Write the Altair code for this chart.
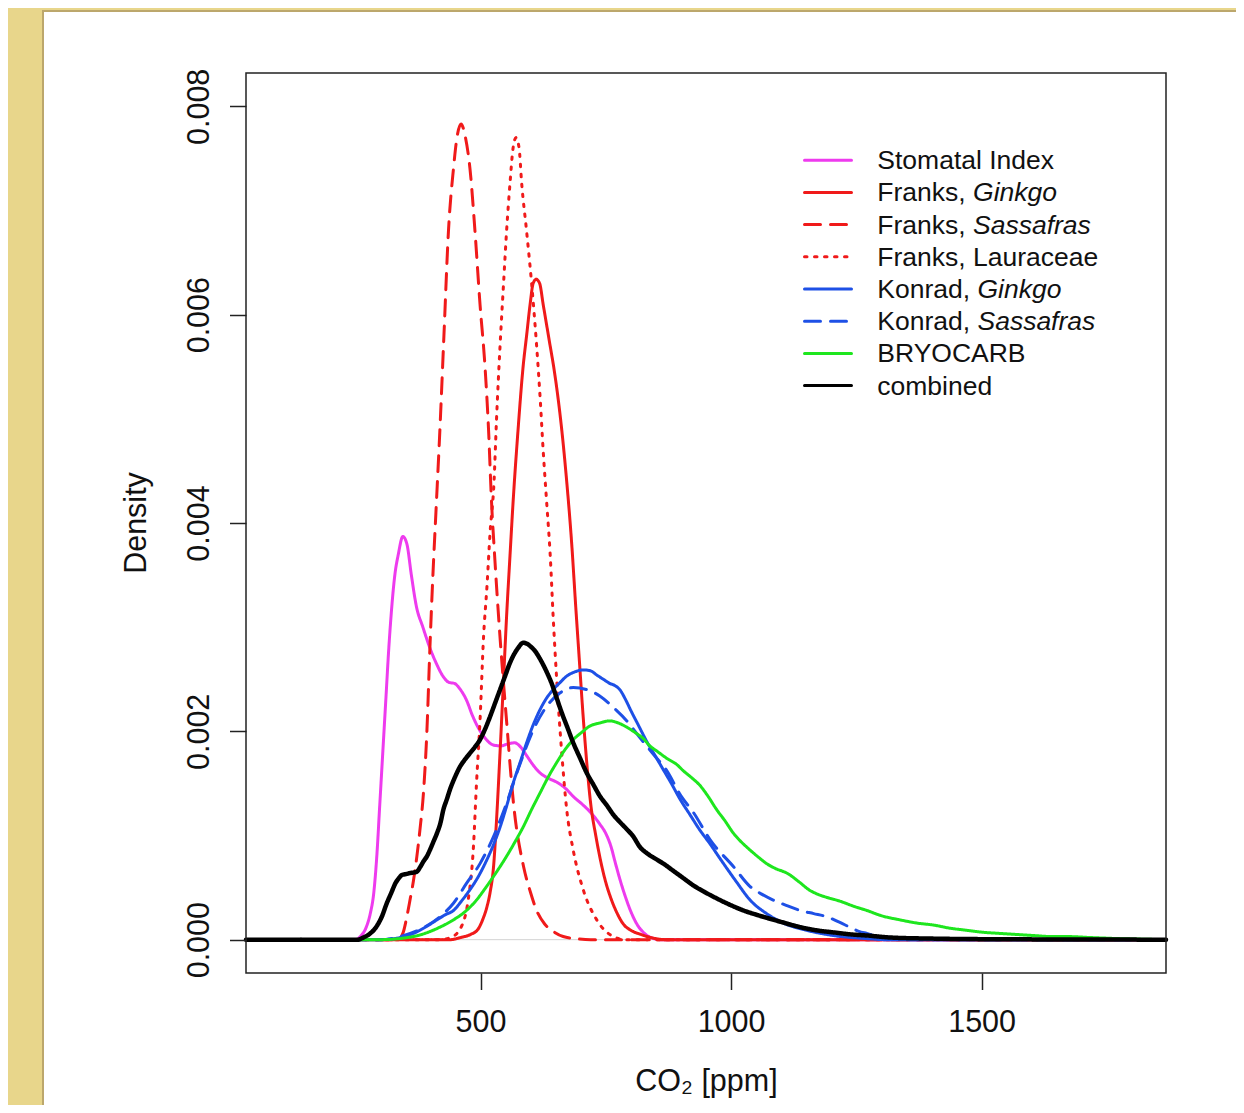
import altair as alt
import pandas as pd

# ---------------- data ----------------
series_names = ["Stomatal Index", "Franks, Ginkgo", "Franks, Sassafras", "Franks, Lauraceae",
                "Konrad, Ginkgo", "Konrad, Sassafras", "BRYOCARB", "combined"]
series_colors = ["#EE3BEE", "#F01A1A", "#F01A1A", "#F01A1A",
                 "#1E50E6", "#1E50E6", "#1EE61E", "#000000"]
series_dash = [[1, 0], [1, 0], [16, 10], [2.5, 7.5], [1, 0], [16, 10], [1, 0], [1, 0]]

# legend text: regular part and italic part
legend_regular = ["Stomatal Index", "Franks, ", "Franks, ", "Franks, Lauraceae",
                  "Konrad, ", "Konrad, ", "BRYOCARB", "combined"]
legend_italic = ["", "Ginkgo", "Sassafras", "", "Ginkgo", "Sassafras", "", ""]

x_tick_values = [500, 1000, 1500]
y_tick_values = [0.0, 0.002, 0.004, 0.006, 0.008]

stomatal_x = [32, 250, 262, 272, 280, 287, 293, 299, 305, 311, 317, 323, 329, 336, 345, 353,
              362, 372, 385, 399, 412, 425, 437, 448, 460, 472, 484, 496, 510, 525, 540, 555,
              568, 580, 593, 606, 619, 635, 653, 670, 686, 703, 720, 738, 750, 760, 770, 780,
              790, 800, 812, 825, 840, 860, 1868]
stomatal_y = [0, 0, 0.00004, 0.00012, 0.00025, 0.00045, 0.0008, 0.0013, 0.0018, 0.0023, 0.0028,
              0.0032, 0.0035, 0.0037, 0.00387, 0.0038, 0.0035, 0.0032, 0.0030, 0.0028, 0.00265,
              0.00253, 0.00247, 0.00246, 0.0024, 0.0023, 0.00215, 0.00203, 0.00193, 0.00187,
              0.00186, 0.00188, 0.00189, 0.00185, 0.00176, 0.00167, 0.0016, 0.00155, 0.00151,
              0.00145, 0.00137, 0.0013, 0.00122, 0.00111, 0.00102, 0.0009, 0.00072, 0.00055,
              0.0004, 0.00027, 0.00015, 0.00007, 0.00002, 0, 0]

franks_ginkgo_x = [32, 440, 460, 480, 495, 505, 512, 519, 526, 532, 539, 546, 552, 559, 565, 575,
                   585, 592, 599, 605, 611, 618, 625, 632, 639, 646, 652, 662, 672, 682, 690, 697,
                   704, 712, 720, 730, 740, 750, 760, 772, 785, 800, 820, 840, 870, 1868]
franks_ginkgo_y = [0, 0, 0.00002, 0.00005, 0.0001, 0.0002, 0.0003, 0.00045, 0.0007, 0.00115,
                   0.0018, 0.0025, 0.0031, 0.0037, 0.0042, 0.0049, 0.0055, 0.0058, 0.0061, 0.0063,
                   0.00634, 0.0063, 0.0061, 0.0059, 0.0057, 0.0055, 0.0053, 0.0049, 0.0044,
                   0.0038, 0.0032, 0.0027, 0.0022, 0.0017, 0.0013, 0.001, 0.00075, 0.00055,
                   0.0004, 0.00026, 0.00015, 0.00009, 0.00005, 0.00002, 0, 0]

franks_sassafras_x = [32, 335, 345, 353, 360, 366, 373, 379, 386, 393, 399, 405, 411, 419, 427,
                      436, 446, 453, 461, 470, 479, 489, 499, 509, 516, 522, 528, 539, 552, 566,
                      586, 600, 612, 628, 645, 665, 690, 720, 1868]
franks_sassafras_y = [0, 0, 0.00006, 0.00022, 0.0004, 0.00056, 0.0008, 0.00105, 0.0014, 0.002,
                      0.0028, 0.0035, 0.0041, 0.0049, 0.0058, 0.0068, 0.0074, 0.0077, 0.00783,
                      0.0077, 0.0074, 0.0068, 0.0061, 0.0055, 0.0049, 0.0042, 0.0037, 0.0029,
                      0.0021, 0.0013, 0.0007, 0.00045, 0.00028, 0.00015, 0.00008, 0.00003,
                      0.00001, 0, 0]

franks_lauraceae_x = [32, 420, 440, 459, 476, 486, 492, 499, 506, 513, 519, 527, 532, 539, 546,
                      552, 559, 565, 571, 577, 582, 592, 602, 612, 619, 625, 632, 639, 645, 652,
                      662, 672, 685, 705, 732, 765, 790, 1868]
franks_lauraceae_y = [0, 0, 0.00002, 0.0001, 0.0004, 0.0009, 0.0015, 0.0021, 0.0029, 0.0034,
                      0.0039, 0.0044, 0.005, 0.0057, 0.0063, 0.0068, 0.00727, 0.0076, 0.0077,
                      0.0076, 0.00727, 0.0068, 0.0063, 0.0057, 0.0052, 0.0047, 0.0042, 0.0037,
                      0.0031, 0.0025, 0.0018, 0.00125, 0.00086, 0.00048, 0.00019, 0.00003, 0, 0]

konrad_ginkgo_x = [32, 299, 340, 366, 390, 413, 430, 446, 462, 479, 495, 512, 525, 539, 552,
                   565, 579, 592, 605, 619, 632, 645, 659, 672, 688, 705, 720, 732, 745, 758,
                   768, 778, 790, 800, 816, 832, 848, 865, 882, 898, 918, 938, 958, 975, 1010,
                   1038, 1071, 1104, 1151, 1204, 1271, 1310, 1868]
konrad_ginkgo_y = [0, 0, 0.00002, 0.00006, 0.00012, 0.00019, 0.00024, 0.00028, 0.00037, 0.00048,
                   0.0006, 0.00076, 0.0009, 0.00108, 0.00128, 0.0015, 0.0017, 0.00189, 0.00206,
                   0.00221, 0.00232, 0.0024, 0.00247, 0.00253, 0.00257, 0.00259, 0.00258,
                   0.00254, 0.0025, 0.00246, 0.00244, 0.0024, 0.0023, 0.0022, 0.00205, 0.0019,
                   0.00177, 0.00163, 0.00149, 0.00135, 0.0012, 0.00105, 0.00092, 0.0008, 0.00056,
                   0.00038, 0.00025, 0.00016, 0.00009, 0.00004, 0.00001, 0, 0]

konrad_sassafras_x = [32, 300, 340, 380, 419, 446, 472, 499, 526, 552, 579, 605, 632, 659, 685,
                      712, 738, 765, 792, 818, 845, 872, 900, 925, 958, 1005, 1038, 1060, 1084,
                      1110, 1138, 1165, 1191, 1215, 1237, 1255, 1271, 1295, 1324, 1360, 1868]
konrad_sassafras_y = [0, 0, 0.00003, 0.0001, 0.00022, 0.00035, 0.00054, 0.00073, 0.00099,
                      0.00131, 0.00169, 0.00201, 0.00224, 0.00237, 0.00242, 0.0024, 0.00234,
                      0.00223, 0.0021, 0.00194, 0.00178, 0.00162, 0.00138, 0.00122, 0.00096,
                      0.0007, 0.00051, 0.00044, 0.00038, 0.00033, 0.00028, 0.00025, 0.00022,
                      0.00017, 0.00012, 0.00008, 0.00006, 0.00003, 0.00002, 0, 0]

bryocarb_x = [32, 299, 366, 419, 446, 472, 492, 512, 532, 552, 569, 585, 602, 619, 635, 652, 668,
              685, 702, 718, 738, 758, 775, 792, 808, 825, 838, 852, 872, 892, 905, 920, 938, 955,
              971, 988, 1005, 1020, 1038, 1055, 1071, 1090, 1111, 1137, 1155, 1171, 1195, 1217,
              1245, 1271, 1300, 1337, 1370, 1404, 1437, 1470, 1505, 1537, 1570, 1603, 1640, 1670,
              1720, 1776, 1820, 1868]
bryocarb_y = [0, 0, 0.00003, 0.00012, 0.00019, 0.00028, 0.00038, 0.00051, 0.00065, 0.0008,
              0.00094, 0.00108, 0.00125, 0.00141, 0.00156, 0.0017, 0.00182, 0.00192, 0.00199,
              0.00205, 0.00208, 0.0021, 0.00208, 0.00204, 0.00199, 0.00193, 0.00186, 0.00181,
              0.00174, 0.00168, 0.00162, 0.00156, 0.00148, 0.00137, 0.00125, 0.00114, 0.00102,
              0.00094, 0.00086, 0.00079, 0.00073, 0.00068, 0.00064, 0.00055, 0.00048, 0.00044,
              0.0004, 0.00037, 0.00032, 0.00028, 0.00023, 0.00019, 0.00016, 0.00014, 0.00011,
              0.00009, 0.00007, 0.00006, 0.00005, 0.00004, 0.00003, 0.00003, 0.00002, 0.00001,
              0.000005, 0]

combined_x = [32, 255, 266, 280, 293, 303, 313, 322, 330, 337, 343, 352, 360, 372, 380, 386, 393,
              399, 406, 413, 420, 426, 433, 439, 449, 459, 469, 479, 489, 499, 509, 519, 529, 539,
              549, 559, 567, 575, 585, 593, 601, 609, 617, 625, 634, 642, 652, 662, 674, 685, 698,
              712, 725, 738, 752, 765, 778, 792, 805, 818, 832, 848, 865, 885, 905, 925, 950, 978,
              1000, 1025, 1050, 1071, 1100, 1138, 1170, 1204, 1240, 1271, 1320, 1404, 1500, 1868]
combined_y = [0, 0, 0.00002, 0.00006, 0.00013, 0.00022, 0.00035, 0.00045, 0.00054, 0.00059,
              0.00062, 0.00063, 0.00064, 0.00065, 0.0007, 0.00075, 0.0008, 0.00086, 0.00094,
              0.00102, 0.00112, 0.00125, 0.00135, 0.00144, 0.00156, 0.00166, 0.00173, 0.00179,
              0.00185, 0.00192, 0.00202, 0.00214, 0.00227, 0.0024, 0.00253, 0.00266, 0.00274,
              0.0028, 0.00285, 0.00284, 0.00281, 0.00277, 0.00271, 0.00264, 0.00255, 0.00246,
              0.00232, 0.00218, 0.00203, 0.00189, 0.00175, 0.0016, 0.00149, 0.00138, 0.00129,
              0.0012, 0.00113, 0.00106, 0.00099, 0.00089, 0.00083, 0.00078, 0.00073, 0.00066,
              0.00059, 0.00052, 0.00045, 0.00038, 0.00033, 0.00028, 0.00024, 0.00021, 0.00017,
              0.00012, 0.00009, 0.00007, 0.00005, 0.00004, 0.00002, 0.00001, 0.000005, 0]

curve_data = [
    ("Stomatal Index", stomatal_x, stomatal_y),
    ("Franks, Ginkgo", franks_ginkgo_x, franks_ginkgo_y),
    ("Franks, Sassafras", franks_sassafras_x, franks_sassafras_y),
    ("Franks, Lauraceae", franks_lauraceae_x, franks_lauraceae_y),
    ("Konrad, Ginkgo", konrad_ginkgo_x, konrad_ginkgo_y),
    ("Konrad, Sassafras", konrad_sassafras_x, konrad_sassafras_y),
    ("BRYOCARB", bryocarb_x, bryocarb_y),
    ("combined", combined_x, combined_y),
]

# ---------------- layout ----------------
W, H = 920, 900
X_MIN, X_MAX = 32, 1868
Y_MIN, Y_MAX = -0.00032, 0.00832
FONT = "Liberation Sans"
LEG_FONT = 26.5
AX_FONT = 30.5


def px_to_x(px):
    return X_MIN + px * (X_MAX - X_MIN) / W


def py_to_y(py):
    return Y_MAX - py * (Y_MAX - Y_MIN) / H


rows = []
for name, xs_, ys_ in curve_data:
    for xv, yv in zip(xs_, ys_):
        rows.append({"series": name, "x": xv, "y": yv})
df = pd.DataFrame(rows)

# legend table (positions in pixels of the plot area converted into data space)
arial_w = {"F": 611, "r": 333, "a": 556, "n": 556, "k": 500, "s": 500, ",": 278, " ": 278,
           "K": 667, "o": 556, "d": 556}
leg_rows = []
for i, name in enumerate(series_names):
    py = 87.2 + 32.2 * i
    reg = legend_regular[i]
    it = legend_italic[i]
    prefix_w = sum(arial_w.get(c, 556) for c in reg) / 1000 * LEG_FONT if it else 0
    leg_rows.append({
        "series": name,
        "x": px_to_x(558.5), "x2": px_to_x(605.5),
        "tx": px_to_x(631.3), "ix": px_to_x(631.3 + prefix_w),
        "y": py_to_y(py),
        "reg": reg, "it": it,
    })
leg = pd.DataFrame(leg_rows)

x_axis = alt.Axis(values=x_tick_values, format="d", title="CO₂ [ppm]", grid=False, domain=False,
                  tickSize=16.5, tickWidth=1.5, tickColor="#222222",
                  labelFontSize=AX_FONT, labelColor="#111111", labelPadding=17.5,
                  labelFlush=False, labelOverlap=False,
                  titleFontSize=AX_FONT, titleFontWeight="normal", titleColor="#111111",
                  titleY=117.7, titleBaseline="alphabetic", zindex=1)
y_axis = alt.Axis(values=y_tick_values, format=".3f", title="Density", grid=False, domain=False,
                  tickSize=16.5, tickWidth=1.5, tickColor="#222222",
                  labelFontSize=AX_FONT, labelColor="#111111", labelAngle=270,
                  labelAlign="center", labelBaseline="alphabetic", labelPadding=21.5,
                  labelFlush=False, labelOverlap=False,
                  titleFontSize=AX_FONT, titleFontWeight="normal", titleColor="#111111",
                  titleAngle=270, titleX=-101, titleY=449.5, titleAlign="center",
                  titleBaseline="alphabetic", zindex=1)

xs = alt.Scale(domain=[X_MIN, X_MAX], nice=False, zero=False)
ys = alt.Scale(domain=[Y_MIN, Y_MAX], nice=False, zero=False)


def X(field="x"):
    return alt.X(f"{field}:Q", scale=xs, axis=x_axis)


def Y(field="y"):
    return alt.Y(f"{field}:Q", scale=ys, axis=y_axis)


color = alt.Color("series:N", scale=alt.Scale(domain=series_names, range=series_colors), legend=None)
dash = alt.StrokeDash("series:N", scale=alt.Scale(domain=series_names, range=series_dash), legend=None)

dummy = pd.DataFrame({"a": [0]})

panel = alt.Chart(dummy).mark_rect(fill="white", stroke="#BCA76C", strokeWidth=2).encode(
    x=alt.value(-203), x2=alt.value(1100), y=alt.value(-62), y2=alt.value(1100))

zero_line = alt.Chart(dummy).mark_rule(color="#d4d4d4", strokeWidth=1).encode(
    y=alt.datum(0), x=alt.value(0), x2=alt.value(W))

colored = alt.Chart(df[df.series != "combined"]).mark_line(
    strokeWidth=3, strokeCap="round", interpolate="monotone").encode(
    x=X(), y=Y(), color=color, strokeDash=dash, detail="series:N")

black = alt.Chart(df[df.series == "combined"]).mark_line(
    strokeWidth=4.5, strokeCap="round", interpolate="monotone").encode(
    x=X(), y=Y(), color=color, strokeDash=dash)

leg_lines = alt.Chart(leg).mark_rule(strokeWidth=3, strokeCap="round").encode(
    x=X("x"), x2="x2:Q", y=Y("y"), color=color, strokeDash=dash)

leg_text = alt.Chart(leg).mark_text(align="left", baseline="middle", fontSize=LEG_FONT,
                                    font=FONT, color="#111111", dy=1).encode(
    x=X("tx"), y=Y("y"), text="reg:N")

leg_it = alt.Chart(leg[leg.it != ""]).mark_text(align="left", baseline="middle", fontSize=LEG_FONT,
                                                font=FONT, fontStyle="italic", color="#111111",
                                                dy=1).encode(
    x=X("ix"), y=Y("y"), text="it:N")

frame = alt.Chart(dummy).mark_rect(fillOpacity=0, stroke="#222222", strokeWidth=1.5).encode(
    x=alt.value(0), x2=alt.value(W), y=alt.value(0), y2=alt.value(H))

chart = alt.layer(panel, zero_line, colored, black, leg_lines, leg_text, leg_it, frame).properties(
    width=W, height=H,
    padding={"left": 238, "top": 65, "right": 70, "bottom": 132},
    autosize=alt.AutoSizeParams(type="none"),
    background="#E8D68B",
).configure(font=FONT).configure_view(strokeWidth=0)

chart.save("out.html", embed_options={"renderer": "svg", "actions": False})
